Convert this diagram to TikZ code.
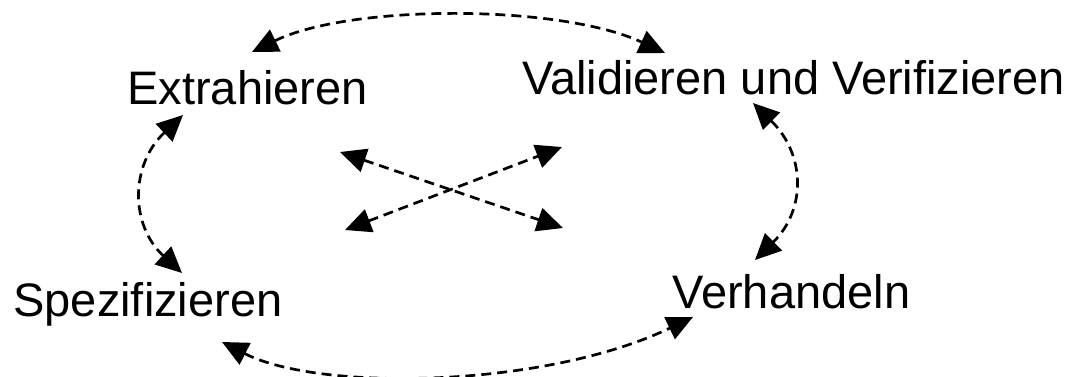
\documentclass[tikz,border=0pt]{standalone}
\usepackage{fontspec}
\setmainfont{Liberation Sans}
\usetikzlibrary{arrows.meta}
\begin{document}
\begin{tikzpicture}[x=0.5pt,y=-0.5pt,
  lbl/.style={anchor=base west,inner sep=0pt,font=\fontsize{23.5pt}{28pt}\selectfont},
  conn/.style={line width=1.35pt,dash pattern=on 5pt off 3pt,
    {Triangle[length=13pt,width=12pt]}-{Triangle[length=13pt,width=12pt]}}]
\useasboundingbox (0,0) rectangle (1084,376);
\node[lbl] (ex) at (127,104) {Extrahieren};
\node[lbl] (vv) at (522,94) {Validieren und Verifizieren};
\node[lbl] (sp) at (13,316) {Spezifizieren};
\node[lbl] (ve) at (672,308) {Verhandeln};
% endpoints
\coordinate (t1) at (252,52);
\coordinate (t2) at (665,53);
\coordinate (l1) at (183,115);
\coordinate (l2) at (182,273);
\coordinate (r1) at (753,103);
\coordinate (r2) at (755,260);
\coordinate (b1) at (222,342);
\coordinate (b2) at (693,317);
\coordinate (c1) at (340,152);
\coordinate (c2) at (563,228);
\coordinate (c3) at (345,230);
\coordinate (c4) at (562,147);
\draw[conn] (t1) .. controls (350,4) and (560,4) .. (t2);
\draw[conn] (l1) .. controls (130,165) and (130,225) .. (l2);
\draw[conn] (r1) .. controls (806,155) and (806,210) .. (r2);
\draw[conn] (b1) .. controls (320,392) and (545,388) .. (b2);
\draw[conn] (c1) -- (c2);
\draw[conn] (c3) -- (c4);
\end{tikzpicture}
\end{document}
